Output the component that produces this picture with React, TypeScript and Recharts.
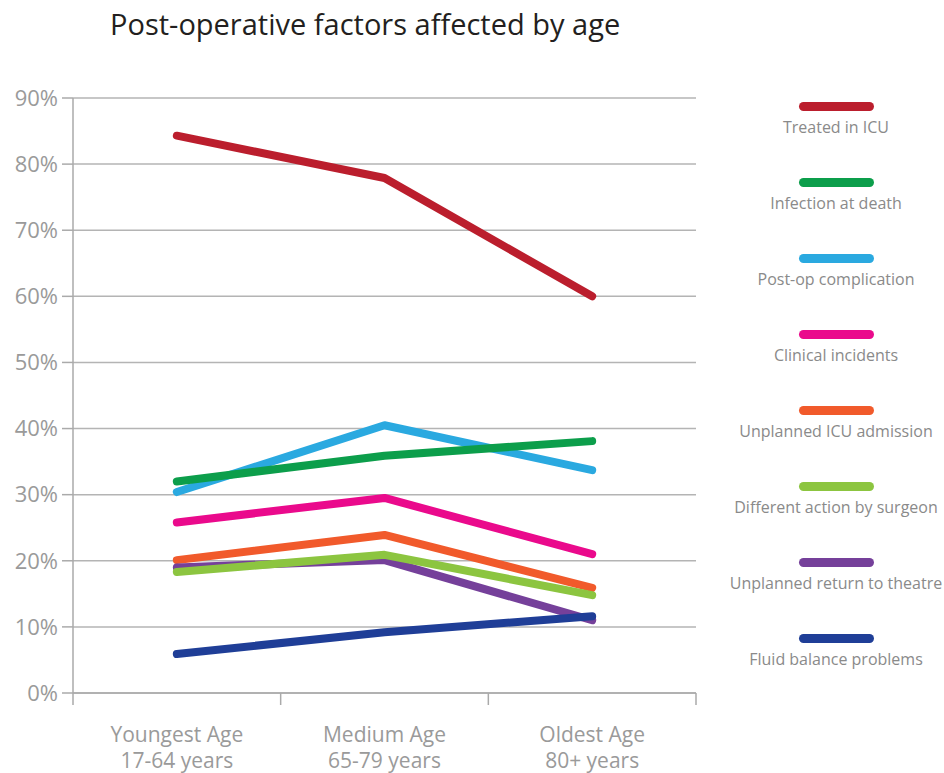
import React from "react";
import {
  LineChart,
  Line,
  XAxis,
  YAxis,
  CartesianGrid,
  Legend,
} from "recharts";

const ageGroups = ["Youngest Age", "Medium Age", "Oldest Age"];
const ageRanges = ["17-64 years", "65-79 years", "80+ years"];

const treatedInIcu = [84.3, 77.9, 60.0];
const infectionAtDeath = [32.0, 35.9, 38.1];
const postOpComplication = [30.4, 40.5, 33.7];
const clinicalIncidents = [25.8, 29.5, 21.0];
const unplannedIcu = [20.1, 23.9, 15.9];
const differentAction = [18.3, 20.9, 14.8];
const unplannedReturn = [19.0, 20.1, 11.0];
const fluidBalance = [5.9, 9.2, 11.6];

const yTicks = [0, 10, 20, 30, 40, 50, 60, 70, 80, 90];

// legend order (top to bottom)
const series = [
  { key: "icu", name: "Treated in ICU", color: "#bb1e2d", values: treatedInIcu },
  { key: "infection", name: "Infection at death", color: "#0c9e4b", values: infectionAtDeath },
  { key: "postop", name: "Post-op complication", color: "#2aa9e0", values: postOpComplication },
  { key: "clinical", name: "Clinical incidents", color: "#ea0a8c", values: clinicalIncidents },
  { key: "unplannedIcu", name: "Unplanned ICU admission", color: "#f15a2b", values: unplannedIcu },
  { key: "different", name: "Different action by surgeon", color: "#8cc540", values: differentAction },
  { key: "return", name: "Unplanned return to theatre", color: "#75409a", values: unplannedReturn },
  { key: "fluid", name: "Fluid balance problems", color: "#1f3e97", values: fluidBalance },
];

// drawing order (later = on top)
const drawOrder = ["icu", "postop", "infection", "clinical", "unplannedIcu", "return", "different", "fluid"];

const data = ageGroups.map((g, i) => {
  const row: any = { group: g, range: ageRanges[i] };
  series.forEach((s) => {
    row[s.key] = s.values[i];
  });
  return row;
});

const FONT = "'Open Sans', 'Noto Sans', sans-serif";

const AgeTick = (props: any) => {
  const { x, y, payload, index } = props;
  const half = payload && payload.offset ? payload.offset : 104;
  const last = index === ageGroups.length - 1;
  return (
    <g>
      <line x1={x - half} x2={x - half} y1={y} y2={y + 12} stroke="#aaaaaa" strokeWidth={1.5} />
      {last && (
        <line x1={x + half} x2={x + half} y1={y} y2={y + 12} stroke="#aaaaaa" strokeWidth={1.5} />
      )}
      <text x={x} y={y + 41} textAnchor="middle" dominantBaseline="central" fill="#9a9a9a" fontSize={21} fontFamily={FONT}>
        {payload.value}
      </text>
      <text x={x} y={y + 67} textAnchor="middle" dominantBaseline="central" fill="#9a9a9a" fontSize={21} fontFamily={FONT}>
        {ageRanges[index]}
      </text>
    </g>
  );
};

const LegendList = () => (
  <div style={{ fontFamily: FONT }}>
    {series.map((s) => (
      <div key={s.key} style={{ height: 76, display: "flex", flexDirection: "column", alignItems: "center" }}>
        <div style={{ width: 75, height: 9, borderRadius: 5, background: s.color }} />
        <div style={{ marginTop: 6, fontSize: 16, lineHeight: "20px", color: "#8a8a8a", whiteSpace: "nowrap" }}>
          {s.name}
        </div>
      </div>
    ))}
  </div>
);

export default function App() {
  return (
    <div style={{ position: "absolute", left: 0, top: 0, width: 944, height: 773, background: "#fff" }}>
      <div
        style={{
          position: "absolute",
          left: 110,
          top: 4,
          fontFamily: FONT,
          fontSize: 29,
          color: "#231f20",
          whiteSpace: "nowrap",
        }}
      >
        Post-operative factors affected by age
      </div>
      <LineChart
        width={944}
        height={773}
        data={data}
        margin={{ top: 98, right: 28, bottom: 0, left: 0 }}
      >
        <CartesianGrid vertical={false} stroke="#b4b4b4" strokeWidth={1.5} />
        <XAxis
          dataKey="group"
          scale="band"
          height={80}
          tickLine={false}
          tickSize={0}
          tickMargin={0}
          axisLine={{ stroke: "#aaaaaa", strokeWidth: 1.5 }}
          tick={<AgeTick />}
          interval={0}
        />
        <YAxis
          width={73}
          domain={[0, 90]}
          ticks={yTicks}
          tickFormatter={(v) => `${v}%`}
          tickSize={11}
          tickMargin={4}
          tickLine={{ stroke: "#aaaaaa", strokeWidth: 1.5 }}
          axisLine={{ stroke: "#aaaaaa", strokeWidth: 1.5 }}
          tick={{ fill: "#9a9a9a", fontSize: 22, fontFamily: FONT }}
        />
        <Legend
          layout="vertical"
          verticalAlign="top"
          align="right"
          content={<LegendList />}
          wrapperStyle={{ position: "absolute", top: 102, left: 726, width: 220 }}
        />
        {drawOrder.map((k) => {
          const s = series.find((x) => x.key === k)!;
          return (
            <Line
              key={s.key}
              dataKey={s.key}
              name={s.name}
              stroke={s.color}
              strokeWidth={8}
              strokeLinecap="round"
              strokeLinejoin="round"
              dot={false}
              activeDot={false}
              isAnimationActive={false}
            />
          );
        })}
      </LineChart>
    </div>
  );
}
